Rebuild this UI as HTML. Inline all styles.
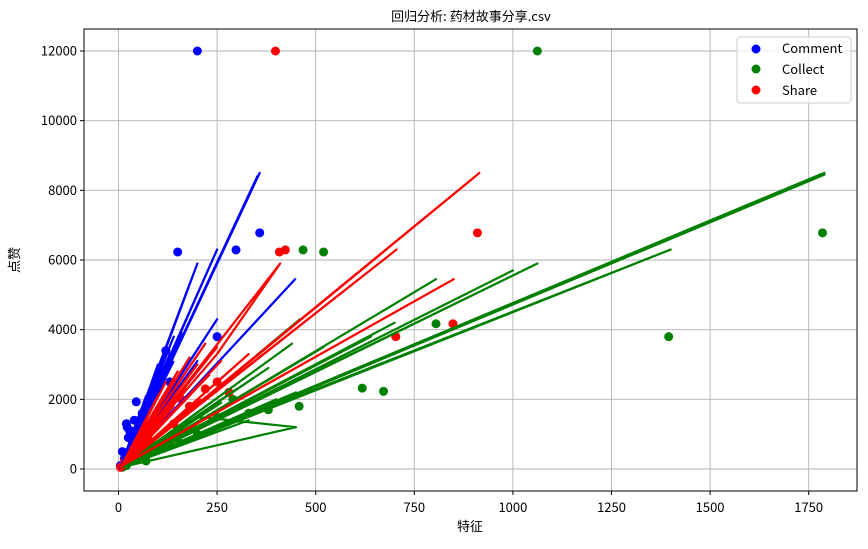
<!DOCTYPE html>
<html><head><meta charset="utf-8"><style>
html,body{margin:0;padding:0;background:#fff;}
svg text{font-family:"Liberation Sans","Noto Sans CJK SC",sans-serif;}
</style></head><body>
<svg id="chart" width="868" height="544" xmlns="http://www.w3.org/2000/svg">
<text x="471" y="21" font-size="13" text-anchor="middle" fill="#000" style="font-family:'Noto Sans CJK SC',sans-serif">回归分析: 药材故事分享.csv</text>
<g id="grid"></g>
<g id="marks"></g>
<rect x="84" y="29" width="773" height="462" fill="none" stroke="#000" stroke-width="1"/>
<g id="ticks"></g>
<text x="470" y="531" font-size="13" text-anchor="middle" style="font-family:'Noto Sans CJK SC',sans-serif">特征</text>
<text transform="translate(19,260) rotate(-90)" font-size="13" text-anchor="middle" style="font-family:'Noto Sans CJK SC',sans-serif">点赞</text>
<g>
<rect x="737" y="37" width="114" height="66" rx="3" fill="#fff" fill-opacity="0.8" stroke="#ccc"/>
<circle cx="756" cy="49" r="4.5" fill="#0000ff"/>
<text x="782" y="53" font-size="13" style="font-family:'Noto Sans CJK SC',sans-serif">Comment</text>
<circle cx="756" cy="69" r="4.5" fill="#008000"/>
<text x="782" y="74" font-size="13" style="font-family:'Noto Sans CJK SC',sans-serif">Collect</text>
<circle cx="756" cy="90" r="4.5" fill="#ff0000"/>
<text x="782" y="95" font-size="13" style="font-family:'Noto Sans CJK SC',sans-serif">Share</text>
</g>
</svg>
<script>
const xTicks=[0,250,500,750,1000,1250,1500,1750];
const yTicks=[0,2000,4000,6000,8000,10000,12000];
const commentX=[200,358,298,150,250,45,20,100,120,80,60,30,25,10,5,15,40,70,35,90,130,55,22,28];
const commentY=[12000,6780,6290,6230,3800,1930,1300,2300,3400,2000,1600,1100,900,500,100,300,1400,1700,800,1200,2500,1000,1200,1100];
const collectX=[1062,1785,468,520,1395,805,618,672,458,290,200,70,40,330,250,150,100,20,10,380];
const collectY=[12000,6780,6290,6230,3800,4170,2320,2230,1800,2000,1000,230,300,1600,1500,900,600,100,50,1700];
const shareX=[398,910,423,408,703,848,220,160,100,30,250,180,60,15,5,120,280,140,80,40];
const shareY=[12000,6780,6290,6230,3800,4170,2300,2000,1500,400,2500,1800,900,200,50,1600,2200,1300,800,500];
const commentLineX=[5,358,10,352,8,250,5,200,10,448,6,140,12,180,8,100,10,250,5,120,8,160,6,80,10,200,4,60,8,90,6,130,10,70,5,110,8,150,6,50,10,95,5,140];
const commentLineY=[50,8500,100,8400,80,6300,50,5900,100,5450,60,3800,120,4500,80,3000,100,4300,50,3400,80,3900,60,2200,90,3100,30,1700,60,2600,40,3300,80,2100,50,2800,60,3600,40,1500,70,2400,30,3100];
const collectLineX=[10,1790,15,1782,10,1400,20,1062,12,805,15,460,20,440,10,450,200,8,520,10,1000,12,640,15,380,10,300,20,200,8,700,12,450,10,350,15,1790,10,260,8,180,12,330,6,120,10,400,8,230];
const collectLineY=[50,8500,100,8470,60,6300,150,5900,80,5450,100,4300,150,3600,60,1200,1500,50,3500,80,5700,100,3800,120,2900,60,2300,150,1300,50,4200,100,2200,80,1600,100,8450,50,1900,60,1100,80,1400,40,700,60,2000,50,1700];
const shareLineX=[5,915,10,910,8,410,250,6,705,10,850,12,300,8,250,10,220,6,180,10,150,5,120,8,200,10,260,6,100,12,330,8,140,6,90,10,230,5,170,8,60,10,280,6,210];
const shareLineY=[50,8500,100,8450,60,5900,3300,80,6300,100,5450,120,4300,60,3500,90,3600,50,3200,80,2800,40,2500,60,3000,100,3100,50,2100,120,3300,60,1800,40,1600,80,2700,40,2300,60,1200,80,2600,50,2000];
const X0=118.5,XS=98.6/250,Y0=469,YS=418/12000;
const sx=v=>X0+v*XS, sy=v=>Y0-v*YS;
const NS='http://www.w3.org/2000/svg';
const grid=document.getElementById('grid'),ticks=document.getElementById('ticks'),marks=document.getElementById('marks');
function mk(tag,attrs,parent){const e=document.createElementNS(NS,tag);for(const k in attrs)e.setAttribute(k,attrs[k]);parent.appendChild(e);return e;}
xTicks.forEach(t=>{
  const l=mk('line',{x1:sx(t),x2:sx(t),y1:29,y2:491,stroke:'#b0b0b0','stroke-width':0.9},grid);
  
  
  const tk=mk('line',{x1:sx(t),x2:sx(t),y1:491,y2:495,stroke:'#000'},ticks);
  
  
  const tx=mk('text',{x:sx(t),y:512,'font-size':13,'text-anchor':'middle',style:"font-family:'Noto Sans CJK SC',sans-serif"},ticks);
  tx.textContent=t;
  
  
});
yTicks.forEach(t=>{
  const l=mk('line',{x1:84,x2:857,y1:sy(t),y2:sy(t),stroke:'#b0b0b0','stroke-width':0.9},grid);
  
  
  const tk=mk('line',{x1:80,x2:84,y1:sy(t),y2:sy(t),stroke:'#000'},ticks);
  
  
  const tx=mk('text',{x:77,y:sy(t)+4.5,'font-size':13,'text-anchor':'end',style:"font-family:'Noto Sans CJK SC',sans-serif"},ticks);
  tx.textContent=t;
  
  
});
function scatter(xs,ys,col,name){
  xs.forEach((x,i)=>{
    const c=mk('circle',{cx:sx(x),cy:sy(ys[i]),r:4.5,fill:col},marks);
    
    
  });
}
function line(xs,ys,col,name){
  const p=mk('polyline',{points:xs.map((x,i)=>sx(x)+','+sy(ys[i])).join(' '),fill:'none',stroke:col,'stroke-width':2.2,'stroke-linejoin':'round'},marks);
  
  
}
scatter(commentX,commentY,'#0000ff','comment');
scatter(collectX,collectY,'#008000','collect');
scatter(shareX,shareY,'#ff0000','share');
line(commentLineX,commentLineY,'#0000ff','comment');
line(collectLineX,collectLineY,'#008000','collect');
line(shareLineX,shareLineY,'#ff0000','share');
</script>
</body></html>
